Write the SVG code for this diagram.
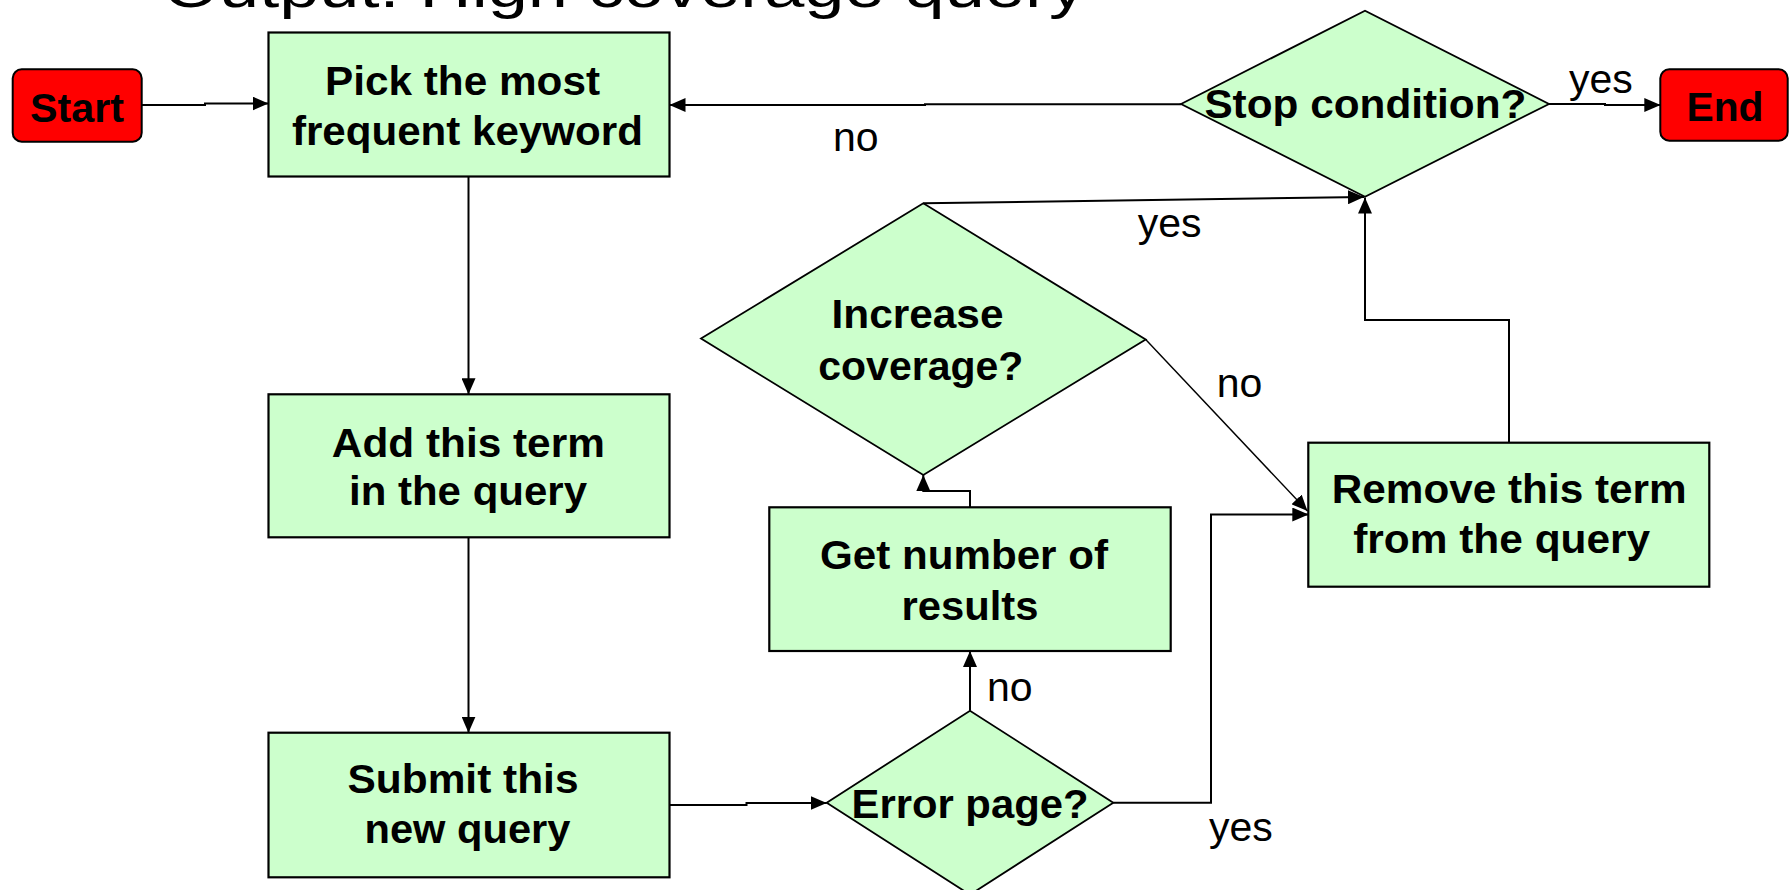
<svg xmlns="http://www.w3.org/2000/svg" width="1789" height="890" viewBox="0 0 1789 890">
<defs>
<style>
.box{fill:#CCFFCC;stroke:#000;stroke-width:2.2}
.dia{fill:#CCFFCC;stroke:#000;stroke-width:1.8}
.term{fill:#FF0000;stroke:#000;stroke-width:2}
.t{font-family:"Liberation Sans",Arial,sans-serif;font-weight:bold;font-size:40px;fill:#000;text-anchor:middle}
.lbl{font-family:"Liberation Sans",Arial,sans-serif;font-size:41px;fill:#000;text-anchor:middle}
.title{font-family:"Liberation Sans",Arial,sans-serif;font-size:56px;fill:#000}
.c{fill:none;stroke:#000;stroke-width:2;marker-end:url(#ah)}
.c2{fill:none;stroke:#000;stroke-width:1.4;marker-end:url(#ah)}
</style>
<marker id="ah" markerUnits="userSpaceOnUse" markerWidth="16" markerHeight="14" refX="16" refY="7" orient="auto">
<path d="M0,0 L16,7 L0,14 z" fill="#000"/>
</marker>
</defs>
<rect width="1789" height="890" fill="#fff"/>
<text class="title" x="163" y="7" textLength="922" lengthAdjust="spacingAndGlyphs">Output: High coverage query</text>

<g id="start">
<rect class="term" x="12.7" y="69.3" width="129" height="72.4" rx="9"/>
<text class="t" x="77" y="121.7" textLength="94" lengthAdjust="spacingAndGlyphs">Start</text>
</g>
<g id="pick">
<rect class="box" x="268.5" y="32.5" width="401" height="144"/>
<text class="t" x="462.5" y="95" textLength="275" lengthAdjust="spacingAndGlyphs">Pick the most</text>
<text class="t" x="467.4" y="145" textLength="351" lengthAdjust="spacingAndGlyphs">frequent keyword</text>
</g>
<g id="add">
<rect class="box" x="268.5" y="394.3" width="401" height="143"/>
<text class="t" x="468.3" y="456.7" textLength="273" lengthAdjust="spacingAndGlyphs">Add this term</text>
<text class="t" x="468" y="505" textLength="238" lengthAdjust="spacingAndGlyphs">in the query</text>
</g>
<g id="submit">
<rect class="box" x="268.5" y="732.7" width="401" height="144.6"/>
<text class="t" x="463" y="792.7" textLength="231" lengthAdjust="spacingAndGlyphs">Submit this</text>
<text class="t" x="467.5" y="843" textLength="206" lengthAdjust="spacingAndGlyphs">new query</text>
</g>
<g id="error">
<polygon class="dia" points="826.7,802.7 970,710.7 1113.3,802.7 970,894.7"/>
<text class="t" x="970" y="818.3" textLength="237" lengthAdjust="spacingAndGlyphs">Error page?</text>
</g>
<g id="getnum">
<rect class="box" x="769.3" y="507.3" width="401.4" height="143.7"/>
<text class="t" x="964" y="569.3" textLength="288" lengthAdjust="spacingAndGlyphs">Get number of</text>
<text class="t" x="970" y="620" textLength="137" lengthAdjust="spacingAndGlyphs">results</text>
</g>
<g id="increase">
<polygon class="dia" points="701,338.5 923.3,203.3 1145.7,339.5 923.3,475"/>
<text class="t" x="917.5" y="328.3" textLength="172" lengthAdjust="spacingAndGlyphs">Increase</text>
<text class="t" x="920.8" y="380" textLength="205" lengthAdjust="spacingAndGlyphs">coverage?</text>
</g>
<g id="remove">
<rect class="box" x="1308.3" y="442.7" width="401" height="144"/>
<text class="t" x="1509.2" y="503.3" textLength="355" lengthAdjust="spacingAndGlyphs">Remove this term</text>
<text class="t" x="1501.7" y="553.3" textLength="297" lengthAdjust="spacingAndGlyphs">from the query</text>
</g>
<g id="stop">
<polygon class="dia" points="1181,104 1365,10.7 1549,104 1365,196.7"/>
<text class="t" x="1365.4" y="118.3" textLength="322" lengthAdjust="spacingAndGlyphs">Stop condition?</text>
</g>
<g id="end">
<rect class="term" x="1660.3" y="69.3" width="127.4" height="71.4" rx="9"/>
<text class="t" x="1725" y="120.7" textLength="77" lengthAdjust="spacingAndGlyphs">End</text>
</g>

<g id="connectors">
<path class="c" d="M141.7,105 H205 V103.5 H268.5"/>
<path class="c" d="M468.5,176.5 V394.3"/>
<path class="c" d="M468.5,537.3 V732.7"/>
<path class="c" d="M669.5,805 H746.5 V803 H826.7"/>
<path class="c" d="M970,710.7 V651"/>
<path class="c" d="M970,507.3 V491 H923.3 V475"/>
<path class="c" d="M923.3,203.3 L1364,197"/>
<path class="c2" d="M1145.7,339.5 L1307.5,511"/>
<path class="c" d="M1113.3,802.7 H1211 V514.5 H1308.3"/>
<path class="c" d="M1509,442.7 V320 H1365 V197.5"/>
<path class="c" d="M1181,104.3 H925 V105 H669.5"/>
<path class="c" d="M1549,104 H1605 V105 H1660.3"/>
<text class="lbl" x="855.8" y="150.7">no</text>
<text class="lbl" x="1600.8" y="93.3">yes</text>
<text class="lbl" x="1169.7" y="236.7">yes</text>
<text class="lbl" x="1239.5" y="396.7">no</text>
<text class="lbl" x="1009.7" y="700.7">no</text>
<text class="lbl" x="1240.8" y="840.5">yes</text>
</g>
</svg>
